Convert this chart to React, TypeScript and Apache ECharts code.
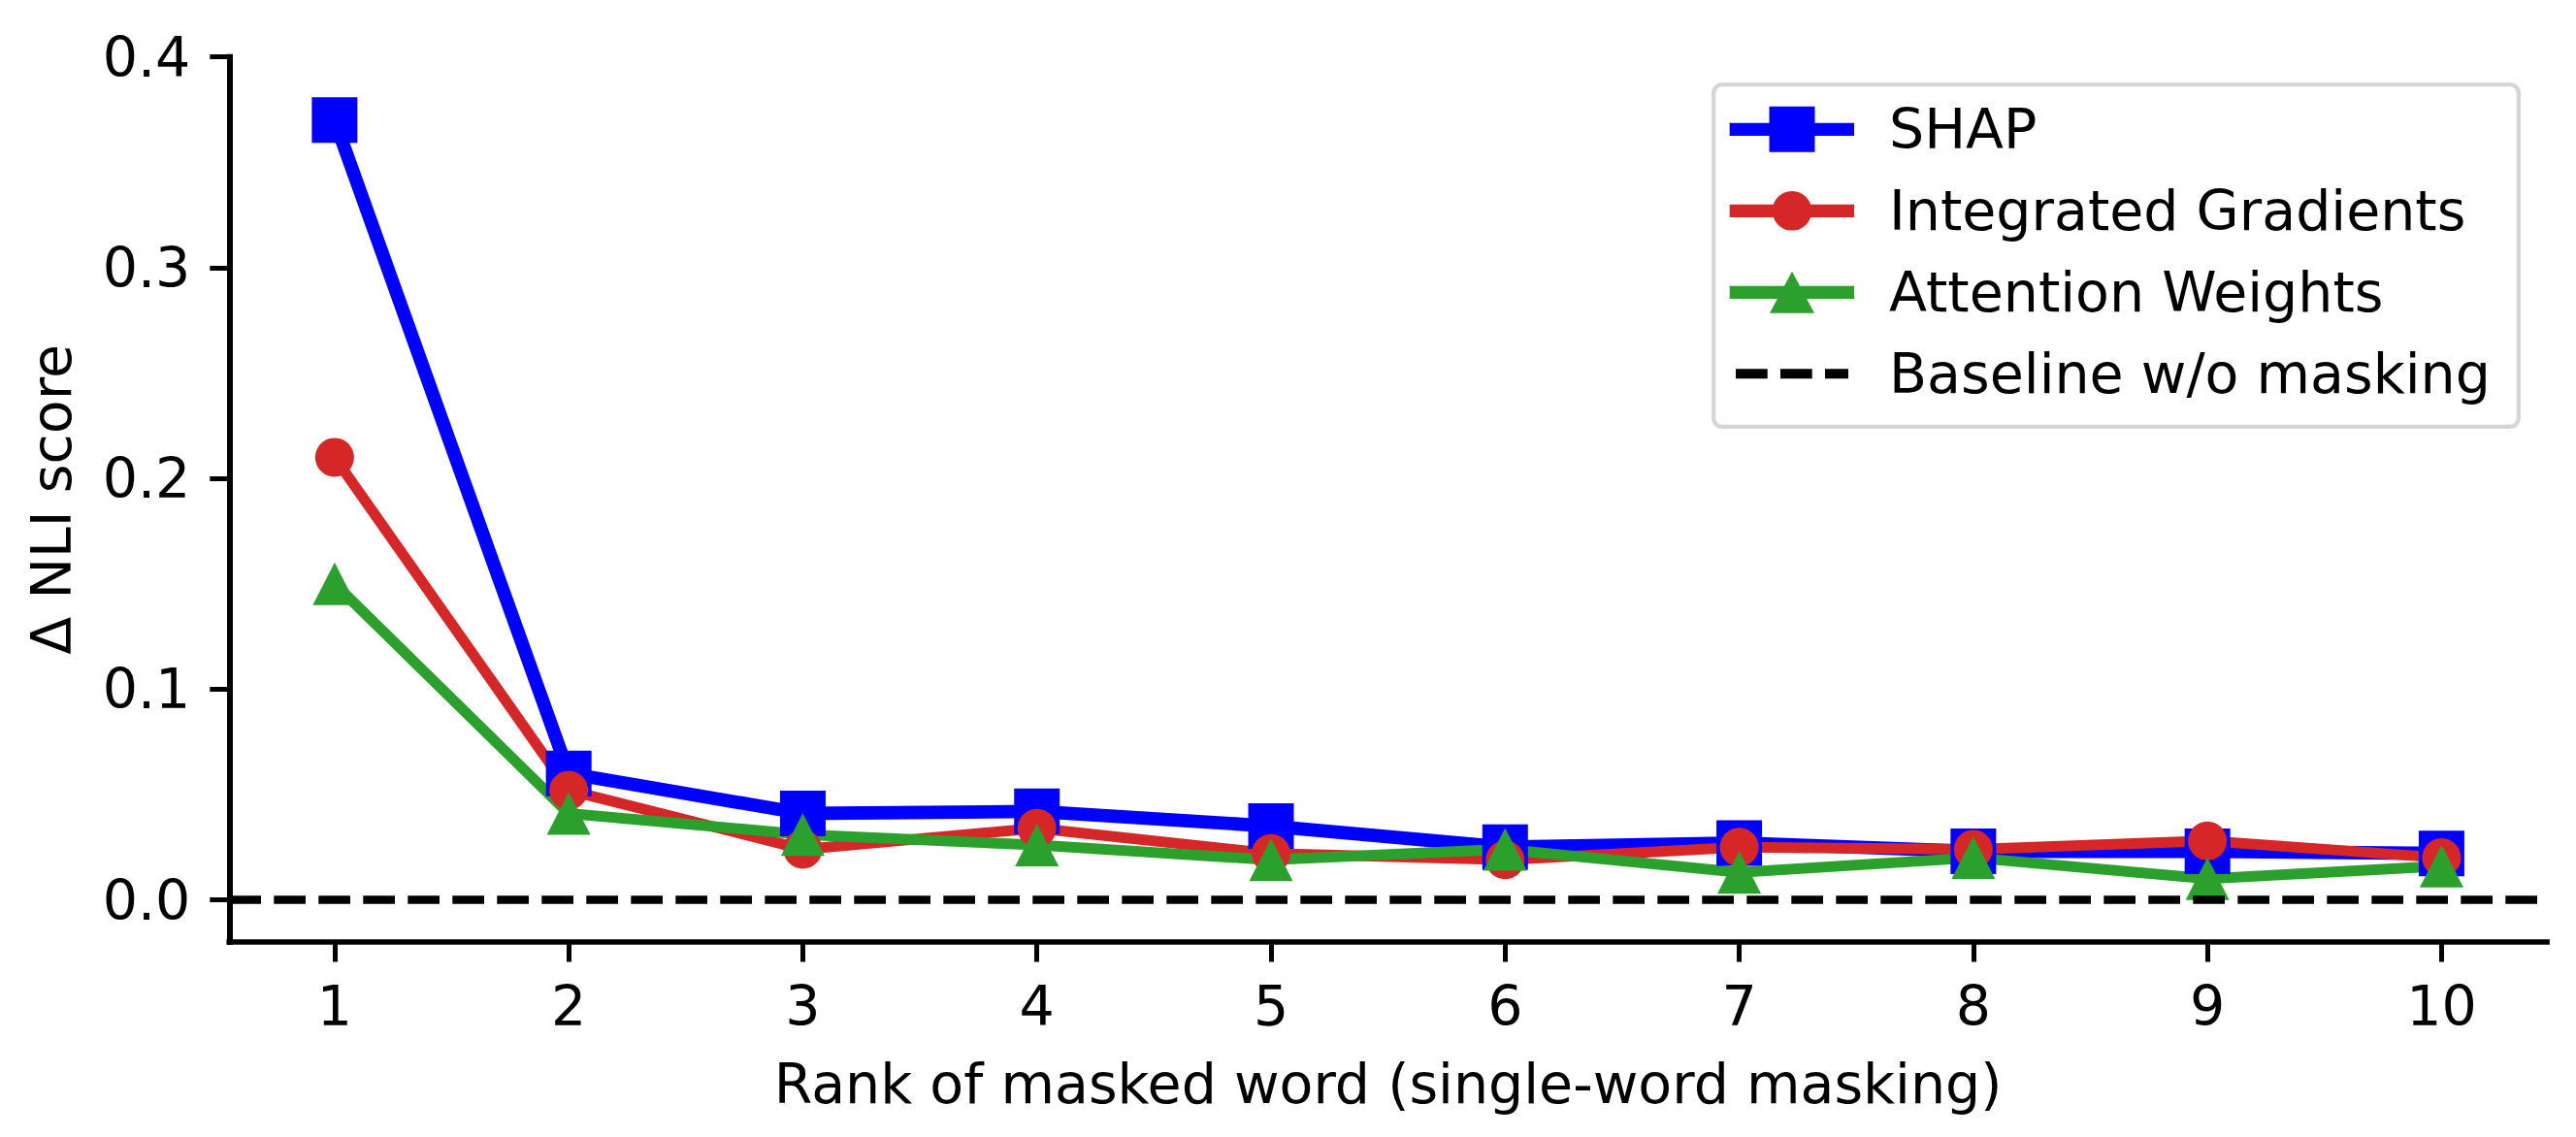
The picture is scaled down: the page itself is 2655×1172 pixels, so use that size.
import React, { useEffect, useRef } from "react";
import * as echarts from "echarts";

// ---- data ----
const RANKS = [1, 2, 3, 4, 5, 6, 7, 8, 9, 10];
const SHAP = [0.37, 0.06, 0.041, 0.042, 0.035, 0.025, 0.027, 0.023, 0.023, 0.022];
const INTEGRATED_GRADIENTS = [0.21, 0.052, 0.024, 0.034, 0.022, 0.019, 0.025, 0.024, 0.028, 0.02];
const ATTENTION_WEIGHTS = [0.15, 0.041, 0.031, 0.026, 0.019, 0.024, 0.013, 0.02, 0.01, 0.016];
const BASELINE = 0.0;
const Y_TICKS = [0, 0.1, 0.2, 0.3, 0.4];
const SERIES_NAMES = ["SHAP", "Integrated Gradients", "Attention Weights", "Baseline w/o masking"];
const X_TITLE = "Rank of masked word (single-word masking)";
const Y_TITLE = "Δ NLI score";

const FONT = "DejaVu Sans";
const FS = 57;

const STYLES = [
  { color: "#0000ff", symbol: "rect", size: 47 as any, width: 13.8 },
  { color: "#d62728", symbol: "circle", size: 40 as any, width: 11 },
  { color: "#2ca02c", symbol: "triangle", size: [45, 44] as any, width: 11 },
];
const DASH = [32.7, 13.3];

function buildLegend() {
  const left = 1764, top = 85, right = 2598, bottom = 442;
  const bw = 4.3;
  const els: any[] = [];
  els.push({
    type: "rect",
    shape: { x: left + bw / 2, y: top + bw / 2, width: right - left - bw, height: bottom - top - bw, r: 9 },
    style: { fill: "#ffffff", stroke: "#d6d6d6", lineWidth: bw },
    z: 100,
  });
  const rowY = (i: number) => 133.3 + i * 84;
  const x0 = 1782.7, x1 = 1911, xm = 1847;
  const textX = 1947;
  for (let i = 0; i < 3; i++) {
    const y = rowY(i);
    const st = STYLES[i];
    els.push({ type: "line", shape: { x1: x0, y1: y, x2: x1, y2: y }, style: { stroke: st.color, lineWidth: 13.3 }, z: 101 });
    if (st.symbol === "rect") {
      els.push({ type: "rect", shape: { x: xm - 23.5, y: y - 23.5, width: 47, height: 47 }, style: { fill: st.color }, z: 102 });
    } else if (st.symbol === "circle") {
      els.push({ type: "circle", shape: { cx: xm, cy: y, r: 20.3 }, style: { fill: st.color }, z: 102 });
    } else {
      els.push({
        type: "polygon",
        shape: { points: [[xm, y - 21.5], [xm - 23, y + 21.5], [xm + 23, y + 21.5]] },
        style: { fill: st.color },
        z: 102,
      });
    }
  }
  const yb = rowY(3);
  els.push({
    type: "line",
    shape: { x1: 1789, y1: yb, x2: 1905, y2: yb },
    style: { stroke: "#000", lineWidth: 10, lineDash: DASH },
    z: 101,
  });
  for (let i = 0; i < 4; i++) {
    els.push({
      type: "text",
      x: textX,
      y: rowY(i),
      style: { text: SERIES_NAMES[i], fontSize: FS, fontFamily: FONT, fill: "#000", align: "left", verticalAlign: "middle" },
      z: 103,
    });
  }
  return els;
}

export default function App() {
  const ref = useRef<HTMLDivElement>(null);
  useEffect(() => {
    document.body.style.margin = "0";
    document.body.style.overflow = "hidden";
    if (!ref.current) return;
    const chart = echarts.init(ref.current, null, { renderer: "svg" });
    const seriesData = [SHAP, INTEGRATED_GRADIENTS, ATTENTION_WEIGHTS];
    const series: any[] = seriesData.map((vals, i) => ({
      name: SERIES_NAMES[i],
      type: "line",
      data: RANKS.map((r, k) => [r, vals[k]]),
      symbol: STYLES[i].symbol,
      symbolSize: STYLES[i].size,
      showSymbol: true,
      itemStyle: { color: STYLES[i].color, opacity: 1 },
      lineStyle: { color: STYLES[i].color, width: STYLES[i].width, join: "round", cap: "round" },
      silent: true,
    }));
    series.push({
      name: SERIES_NAMES[3],
      type: "line",
      data: [],
      symbol: "none",
      silent: true,
      markLine: {
        silent: true,
        symbol: ["none", "none"],
        label: { show: false },
        lineStyle: { color: "#000", width: 8.7, type: DASH },
        data: [{ yAxis: BASELINE }],
      },
    });
    const axisText = { fontSize: FS, fontFamily: FONT, color: "#000", lineHeight: FS };
    chart.setOption({
      animation: false,
      backgroundColor: "#ffffff",
      grid: { left: 236.3, right: 30, top: 58.7, bottom: 201, containLabel: false, outerBoundsMode: "none" },
      xAxis: {
        type: "value",
        min: 0.55,
        max: 10.45,
        axisLine: { show: true, onZero: false, lineStyle: { color: "#000", width: 5.7, cap: "square" } },
        axisTick: { show: true, length: 20.5, customValues: RANKS, lineStyle: { color: "#000", width: 5 } },
        axisLabel: { ...axisText, customValues: RANKS, margin: 37 },
        splitLine: { show: false },
        name: X_TITLE,
        nameLocation: "middle",
        nameGap: 117,
        nameTextStyle: axisText,
      },
      yAxis: {
        type: "value",
        min: -0.02,
        max: 0.4,
        axisLine: { show: true, onZero: false, lineStyle: { color: "#000", width: 6, cap: "square" } },
        axisTick: { show: true, length: 20, customValues: Y_TICKS, lineStyle: { color: "#000", width: 5 } },
        axisLabel: { ...axisText, customValues: Y_TICKS, margin: 40, formatter: (v: number) => v.toFixed(1) },
        splitLine: { show: false },
        name: Y_TITLE,
        nameLocation: "middle",
        nameGap: 155,
        nameRotate: 90,
        nameTextStyle: axisText,
      },
      series,
      graphic: buildLegend(),
    });
    return () => chart.dispose();
  }, []);
  return <div ref={ref} style={{ width: 2655, height: 1172 }} />;
}
